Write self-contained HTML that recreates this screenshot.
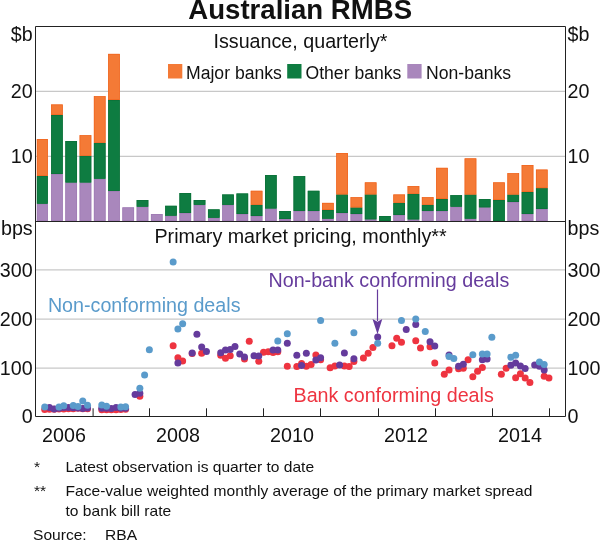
<!DOCTYPE html><html><head><meta charset="utf-8"><style>html,body{margin:0;padding:0;background:#fff}svg{display:block;will-change:transform}text{font-family:"Liberation Sans",sans-serif}</style></head><body>
<svg width="600" height="540" viewBox="0 0 600 540">
<rect width="600" height="540" fill="#fff"/>
<text x="300.2" y="19.2" text-anchor="middle" font-size="27.6" font-weight="bold" fill="#111">Australian RMBS</text>
<line x1="36" x2="565" y1="91.3" y2="91.3" stroke="#C8C8C8" stroke-width="1.2"/>
<line x1="36" x2="565" y1="156.3" y2="156.3" stroke="#C8C8C8" stroke-width="1.2"/>
<line x1="36" x2="565" y1="269.9" y2="269.9" stroke="#C8C8C8" stroke-width="1.2"/>
<line x1="36" x2="565" y1="319.1" y2="319.1" stroke="#C8C8C8" stroke-width="1.2"/>
<line x1="36" x2="565" y1="368.1" y2="368.1" stroke="#C8C8C8" stroke-width="1.2"/>
<rect x="36.85" y="203.75" width="11.0" height="17.25" fill="#A987BC"/>
<rect x="37.20" y="204.10" width="10.30" height="16.55" fill="none" stroke="#9E7AB3" stroke-width="0.7"/>
<rect x="36.85" y="176.00" width="11.0" height="27.75" fill="#0E7C41"/>
<rect x="37.20" y="176.35" width="10.30" height="27.05" fill="none" stroke="#0B7038" stroke-width="0.7"/>
<rect x="36.85" y="139.00" width="11.0" height="37.00" fill="#F47A36"/>
<rect x="37.20" y="139.35" width="10.30" height="36.30" fill="none" stroke="#F0641E" stroke-width="0.7"/>
<rect x="51.11" y="174.00" width="11.65" height="47.00" fill="#A987BC"/>
<rect x="51.46" y="174.35" width="10.95" height="46.30" fill="none" stroke="#9E7AB3" stroke-width="0.7"/>
<rect x="51.11" y="115.00" width="11.65" height="59.00" fill="#0E7C41"/>
<rect x="51.46" y="115.35" width="10.95" height="58.30" fill="none" stroke="#0B7038" stroke-width="0.7"/>
<rect x="51.11" y="104.50" width="11.65" height="10.50" fill="#F47A36"/>
<rect x="51.46" y="104.85" width="10.95" height="9.80" fill="none" stroke="#F0641E" stroke-width="0.7"/>
<rect x="65.37" y="182.50" width="11.65" height="38.50" fill="#A987BC"/>
<rect x="65.72" y="182.85" width="10.95" height="37.80" fill="none" stroke="#9E7AB3" stroke-width="0.7"/>
<rect x="65.37" y="141.00" width="11.65" height="41.50" fill="#0E7C41"/>
<rect x="65.72" y="141.35" width="10.95" height="40.80" fill="none" stroke="#0B7038" stroke-width="0.7"/>
<rect x="79.63" y="182.50" width="11.65" height="38.50" fill="#A987BC"/>
<rect x="79.98" y="182.85" width="10.95" height="37.80" fill="none" stroke="#9E7AB3" stroke-width="0.7"/>
<rect x="79.63" y="155.75" width="11.65" height="26.75" fill="#0E7C41"/>
<rect x="79.98" y="156.10" width="10.95" height="26.05" fill="none" stroke="#0B7038" stroke-width="0.7"/>
<rect x="79.63" y="135.25" width="11.65" height="20.50" fill="#F47A36"/>
<rect x="79.98" y="135.60" width="10.95" height="19.80" fill="none" stroke="#F0641E" stroke-width="0.7"/>
<rect x="93.89" y="178.75" width="11.65" height="42.25" fill="#A987BC"/>
<rect x="94.24" y="179.10" width="10.95" height="41.55" fill="none" stroke="#9E7AB3" stroke-width="0.7"/>
<rect x="93.89" y="142.75" width="11.65" height="36.00" fill="#0E7C41"/>
<rect x="94.24" y="143.10" width="10.95" height="35.30" fill="none" stroke="#0B7038" stroke-width="0.7"/>
<rect x="93.89" y="96.25" width="11.65" height="46.50" fill="#F47A36"/>
<rect x="94.24" y="96.60" width="10.95" height="45.80" fill="none" stroke="#F0641E" stroke-width="0.7"/>
<rect x="108.15" y="191.00" width="11.65" height="30.00" fill="#A987BC"/>
<rect x="108.50" y="191.35" width="10.95" height="29.30" fill="none" stroke="#9E7AB3" stroke-width="0.7"/>
<rect x="108.15" y="100.00" width="11.65" height="91.00" fill="#0E7C41"/>
<rect x="108.50" y="100.35" width="10.95" height="90.30" fill="none" stroke="#0B7038" stroke-width="0.7"/>
<rect x="108.15" y="53.90" width="11.65" height="46.10" fill="#F47A36"/>
<rect x="108.50" y="54.25" width="10.95" height="45.40" fill="none" stroke="#F0641E" stroke-width="0.7"/>
<rect x="122.41" y="207.40" width="11.65" height="13.60" fill="#A987BC"/>
<rect x="122.76" y="207.75" width="10.95" height="12.90" fill="none" stroke="#9E7AB3" stroke-width="0.7"/>
<rect x="136.67" y="206.70" width="11.65" height="14.30" fill="#A987BC"/>
<rect x="137.02" y="207.05" width="10.95" height="13.60" fill="none" stroke="#9E7AB3" stroke-width="0.7"/>
<rect x="136.67" y="200.00" width="11.65" height="6.70" fill="#0E7C41"/>
<rect x="137.02" y="200.35" width="10.95" height="6.00" fill="none" stroke="#0B7038" stroke-width="0.7"/>
<rect x="150.93" y="214.00" width="11.65" height="7.00" fill="#A987BC"/>
<rect x="151.28" y="214.35" width="10.95" height="6.30" fill="none" stroke="#9E7AB3" stroke-width="0.7"/>
<rect x="165.19" y="215.70" width="11.65" height="5.30" fill="#A987BC"/>
<rect x="165.54" y="216.05" width="10.95" height="4.60" fill="none" stroke="#9E7AB3" stroke-width="0.7"/>
<rect x="165.19" y="205.80" width="11.65" height="9.90" fill="#0E7C41"/>
<rect x="165.54" y="206.15" width="10.95" height="9.20" fill="none" stroke="#0B7038" stroke-width="0.7"/>
<rect x="179.45" y="213.00" width="11.65" height="8.00" fill="#A987BC"/>
<rect x="179.80" y="213.35" width="10.95" height="7.30" fill="none" stroke="#9E7AB3" stroke-width="0.7"/>
<rect x="179.45" y="193.00" width="11.65" height="20.00" fill="#0E7C41"/>
<rect x="179.80" y="193.35" width="10.95" height="19.30" fill="none" stroke="#0B7038" stroke-width="0.7"/>
<rect x="193.71" y="204.90" width="11.65" height="16.10" fill="#A987BC"/>
<rect x="194.06" y="205.25" width="10.95" height="15.40" fill="none" stroke="#9E7AB3" stroke-width="0.7"/>
<rect x="193.71" y="200.00" width="11.65" height="4.90" fill="#0E7C41"/>
<rect x="194.06" y="200.35" width="10.95" height="4.20" fill="none" stroke="#0B7038" stroke-width="0.7"/>
<rect x="207.97" y="217.80" width="11.65" height="3.20" fill="#A987BC"/>
<rect x="208.32" y="218.15" width="10.95" height="2.50" fill="none" stroke="#9E7AB3" stroke-width="0.7"/>
<rect x="207.97" y="209.40" width="11.65" height="8.40" fill="#0E7C41"/>
<rect x="208.32" y="209.75" width="10.95" height="7.70" fill="none" stroke="#0B7038" stroke-width="0.7"/>
<rect x="222.23" y="204.90" width="11.65" height="16.10" fill="#A987BC"/>
<rect x="222.58" y="205.25" width="10.95" height="15.40" fill="none" stroke="#9E7AB3" stroke-width="0.7"/>
<rect x="222.23" y="194.50" width="11.65" height="10.40" fill="#0E7C41"/>
<rect x="222.58" y="194.85" width="10.95" height="9.70" fill="none" stroke="#0B7038" stroke-width="0.7"/>
<rect x="236.49" y="214.00" width="11.65" height="7.00" fill="#A987BC"/>
<rect x="236.84" y="214.35" width="10.95" height="6.30" fill="none" stroke="#9E7AB3" stroke-width="0.7"/>
<rect x="236.49" y="193.50" width="11.65" height="20.50" fill="#0E7C41"/>
<rect x="236.84" y="193.85" width="10.95" height="19.80" fill="none" stroke="#0B7038" stroke-width="0.7"/>
<rect x="250.75" y="216.00" width="11.65" height="5.00" fill="#A987BC"/>
<rect x="251.10" y="216.35" width="10.95" height="4.30" fill="none" stroke="#9E7AB3" stroke-width="0.7"/>
<rect x="250.75" y="204.75" width="11.65" height="11.25" fill="#0E7C41"/>
<rect x="251.10" y="205.10" width="10.95" height="10.55" fill="none" stroke="#0B7038" stroke-width="0.7"/>
<rect x="250.75" y="190.80" width="11.65" height="13.95" fill="#F47A36"/>
<rect x="251.10" y="191.15" width="10.95" height="13.25" fill="none" stroke="#F0641E" stroke-width="0.7"/>
<rect x="265.01" y="208.50" width="11.65" height="12.50" fill="#A987BC"/>
<rect x="265.36" y="208.85" width="10.95" height="11.80" fill="none" stroke="#9E7AB3" stroke-width="0.7"/>
<rect x="265.01" y="175.00" width="11.65" height="33.50" fill="#0E7C41"/>
<rect x="265.36" y="175.35" width="10.95" height="32.80" fill="none" stroke="#0B7038" stroke-width="0.7"/>
<rect x="279.27" y="219.00" width="11.65" height="2.00" fill="#A987BC"/>
<rect x="279.62" y="219.35" width="10.95" height="1.30" fill="none" stroke="#9E7AB3" stroke-width="0.7"/>
<rect x="279.27" y="211.00" width="11.65" height="8.00" fill="#0E7C41"/>
<rect x="279.62" y="211.35" width="10.95" height="7.30" fill="none" stroke="#0B7038" stroke-width="0.7"/>
<rect x="293.53" y="211.00" width="11.65" height="10.00" fill="#A987BC"/>
<rect x="293.88" y="211.35" width="10.95" height="9.30" fill="none" stroke="#9E7AB3" stroke-width="0.7"/>
<rect x="293.53" y="176.10" width="11.65" height="34.90" fill="#0E7C41"/>
<rect x="293.88" y="176.45" width="10.95" height="34.20" fill="none" stroke="#0B7038" stroke-width="0.7"/>
<rect x="307.79" y="211.00" width="11.65" height="10.00" fill="#A987BC"/>
<rect x="308.14" y="211.35" width="10.95" height="9.30" fill="none" stroke="#9E7AB3" stroke-width="0.7"/>
<rect x="307.79" y="190.80" width="11.65" height="20.20" fill="#0E7C41"/>
<rect x="308.14" y="191.15" width="10.95" height="19.50" fill="none" stroke="#0B7038" stroke-width="0.7"/>
<rect x="322.05" y="218.70" width="11.65" height="2.30" fill="#A987BC"/>
<rect x="322.40" y="219.05" width="10.95" height="1.60" fill="none" stroke="#9E7AB3" stroke-width="0.7"/>
<rect x="322.05" y="210.00" width="11.65" height="8.70" fill="#0E7C41"/>
<rect x="322.40" y="210.35" width="10.95" height="8.00" fill="none" stroke="#0B7038" stroke-width="0.7"/>
<rect x="322.05" y="202.90" width="11.65" height="7.10" fill="#F47A36"/>
<rect x="322.40" y="203.25" width="10.95" height="6.40" fill="none" stroke="#F0641E" stroke-width="0.7"/>
<rect x="336.31" y="213.00" width="11.65" height="8.00" fill="#A987BC"/>
<rect x="336.66" y="213.35" width="10.95" height="7.30" fill="none" stroke="#9E7AB3" stroke-width="0.7"/>
<rect x="336.31" y="194.40" width="11.65" height="18.60" fill="#0E7C41"/>
<rect x="336.66" y="194.75" width="10.95" height="17.90" fill="none" stroke="#0B7038" stroke-width="0.7"/>
<rect x="336.31" y="153.00" width="11.65" height="41.40" fill="#F47A36"/>
<rect x="336.66" y="153.35" width="10.95" height="40.70" fill="none" stroke="#F0641E" stroke-width="0.7"/>
<rect x="350.57" y="214.00" width="11.65" height="7.00" fill="#A987BC"/>
<rect x="350.92" y="214.35" width="10.95" height="6.30" fill="none" stroke="#9E7AB3" stroke-width="0.7"/>
<rect x="350.57" y="207.40" width="11.65" height="6.60" fill="#0E7C41"/>
<rect x="350.92" y="207.75" width="10.95" height="5.90" fill="none" stroke="#0B7038" stroke-width="0.7"/>
<rect x="350.57" y="197.25" width="11.65" height="10.15" fill="#F47A36"/>
<rect x="350.92" y="197.60" width="10.95" height="9.45" fill="none" stroke="#F0641E" stroke-width="0.7"/>
<rect x="364.83" y="219.30" width="11.65" height="1.70" fill="#A987BC"/>
<rect x="365.18" y="219.65" width="10.95" height="1.00" fill="none" stroke="#9E7AB3" stroke-width="0.7"/>
<rect x="364.83" y="194.40" width="11.65" height="24.90" fill="#0E7C41"/>
<rect x="365.18" y="194.75" width="10.95" height="24.20" fill="none" stroke="#0B7038" stroke-width="0.7"/>
<rect x="364.83" y="182.40" width="11.65" height="12.00" fill="#F47A36"/>
<rect x="365.18" y="182.75" width="10.95" height="11.30" fill="none" stroke="#F0641E" stroke-width="0.7"/>
<rect x="379.09" y="216.00" width="11.65" height="5.00" fill="#0E7C41"/>
<rect x="379.44" y="216.35" width="10.95" height="4.30" fill="none" stroke="#0B7038" stroke-width="0.7"/>
<rect x="393.35" y="215.00" width="11.65" height="6.00" fill="#A987BC"/>
<rect x="393.70" y="215.35" width="10.95" height="5.30" fill="none" stroke="#9E7AB3" stroke-width="0.7"/>
<rect x="393.35" y="202.80" width="11.65" height="12.20" fill="#0E7C41"/>
<rect x="393.70" y="203.15" width="10.95" height="11.50" fill="none" stroke="#0B7038" stroke-width="0.7"/>
<rect x="393.35" y="194.50" width="11.65" height="8.30" fill="#F47A36"/>
<rect x="393.70" y="194.85" width="10.95" height="7.60" fill="none" stroke="#F0641E" stroke-width="0.7"/>
<rect x="407.61" y="219.40" width="11.65" height="1.60" fill="#A987BC"/>
<rect x="407.96" y="219.75" width="10.95" height="0.90" fill="none" stroke="#9E7AB3" stroke-width="0.7"/>
<rect x="407.61" y="193.80" width="11.65" height="25.60" fill="#0E7C41"/>
<rect x="407.96" y="194.15" width="10.95" height="24.90" fill="none" stroke="#0B7038" stroke-width="0.7"/>
<rect x="407.61" y="186.10" width="11.65" height="7.70" fill="#F47A36"/>
<rect x="407.96" y="186.45" width="10.95" height="7.00" fill="none" stroke="#F0641E" stroke-width="0.7"/>
<rect x="421.87" y="211.00" width="11.65" height="10.00" fill="#A987BC"/>
<rect x="422.22" y="211.35" width="10.95" height="9.30" fill="none" stroke="#9E7AB3" stroke-width="0.7"/>
<rect x="421.87" y="204.75" width="11.65" height="6.25" fill="#0E7C41"/>
<rect x="422.22" y="205.10" width="10.95" height="5.55" fill="none" stroke="#0B7038" stroke-width="0.7"/>
<rect x="421.87" y="197.25" width="11.65" height="7.50" fill="#F47A36"/>
<rect x="422.22" y="197.60" width="10.95" height="6.80" fill="none" stroke="#F0641E" stroke-width="0.7"/>
<rect x="436.13" y="211.00" width="11.65" height="10.00" fill="#A987BC"/>
<rect x="436.48" y="211.35" width="10.95" height="9.30" fill="none" stroke="#9E7AB3" stroke-width="0.7"/>
<rect x="436.13" y="199.00" width="11.65" height="12.00" fill="#0E7C41"/>
<rect x="436.48" y="199.35" width="10.95" height="11.30" fill="none" stroke="#0B7038" stroke-width="0.7"/>
<rect x="436.13" y="167.85" width="11.65" height="31.15" fill="#F47A36"/>
<rect x="436.48" y="168.20" width="10.95" height="30.45" fill="none" stroke="#F0641E" stroke-width="0.7"/>
<rect x="450.39" y="206.70" width="11.65" height="14.30" fill="#A987BC"/>
<rect x="450.74" y="207.05" width="10.95" height="13.60" fill="none" stroke="#9E7AB3" stroke-width="0.7"/>
<rect x="450.39" y="195.15" width="11.65" height="11.55" fill="#0E7C41"/>
<rect x="450.74" y="195.50" width="10.95" height="10.85" fill="none" stroke="#0B7038" stroke-width="0.7"/>
<rect x="464.65" y="218.70" width="11.65" height="2.30" fill="#A987BC"/>
<rect x="465.00" y="219.05" width="10.95" height="1.60" fill="none" stroke="#9E7AB3" stroke-width="0.7"/>
<rect x="464.65" y="194.50" width="11.65" height="24.20" fill="#0E7C41"/>
<rect x="465.00" y="194.85" width="10.95" height="23.50" fill="none" stroke="#0B7038" stroke-width="0.7"/>
<rect x="464.65" y="158.40" width="11.65" height="36.10" fill="#F47A36"/>
<rect x="465.00" y="158.75" width="10.95" height="35.40" fill="none" stroke="#F0641E" stroke-width="0.7"/>
<rect x="478.91" y="207.30" width="11.65" height="13.70" fill="#A987BC"/>
<rect x="479.26" y="207.65" width="10.95" height="13.00" fill="none" stroke="#9E7AB3" stroke-width="0.7"/>
<rect x="478.91" y="199.00" width="11.65" height="8.30" fill="#0E7C41"/>
<rect x="479.26" y="199.35" width="10.95" height="7.60" fill="none" stroke="#0B7038" stroke-width="0.7"/>
<rect x="493.17" y="200.00" width="11.65" height="21.00" fill="#0E7C41"/>
<rect x="493.52" y="200.35" width="10.95" height="20.30" fill="none" stroke="#0B7038" stroke-width="0.7"/>
<rect x="493.17" y="182.40" width="11.65" height="17.60" fill="#F47A36"/>
<rect x="493.52" y="182.75" width="10.95" height="16.90" fill="none" stroke="#F0641E" stroke-width="0.7"/>
<rect x="507.43" y="202.00" width="11.65" height="19.00" fill="#A987BC"/>
<rect x="507.78" y="202.35" width="10.95" height="18.30" fill="none" stroke="#9E7AB3" stroke-width="0.7"/>
<rect x="507.43" y="194.50" width="11.65" height="7.50" fill="#0E7C41"/>
<rect x="507.78" y="194.85" width="10.95" height="6.80" fill="none" stroke="#0B7038" stroke-width="0.7"/>
<rect x="507.43" y="173.25" width="11.65" height="21.25" fill="#F47A36"/>
<rect x="507.78" y="173.60" width="10.95" height="20.55" fill="none" stroke="#F0641E" stroke-width="0.7"/>
<rect x="521.69" y="214.00" width="11.65" height="7.00" fill="#A987BC"/>
<rect x="522.04" y="214.35" width="10.95" height="6.30" fill="none" stroke="#9E7AB3" stroke-width="0.7"/>
<rect x="521.69" y="192.00" width="11.65" height="22.00" fill="#0E7C41"/>
<rect x="522.04" y="192.35" width="10.95" height="21.30" fill="none" stroke="#0B7038" stroke-width="0.7"/>
<rect x="521.69" y="165.00" width="11.65" height="27.00" fill="#F47A36"/>
<rect x="522.04" y="165.35" width="10.95" height="26.30" fill="none" stroke="#F0641E" stroke-width="0.7"/>
<rect x="535.95" y="209.00" width="11.65" height="12.00" fill="#A987BC"/>
<rect x="536.30" y="209.35" width="10.95" height="11.30" fill="none" stroke="#9E7AB3" stroke-width="0.7"/>
<rect x="535.95" y="188.10" width="11.65" height="20.90" fill="#0E7C41"/>
<rect x="536.30" y="188.45" width="10.95" height="20.20" fill="none" stroke="#0B7038" stroke-width="0.7"/>
<rect x="535.95" y="169.60" width="11.65" height="18.50" fill="#F47A36"/>
<rect x="536.30" y="169.95" width="10.95" height="17.80" fill="none" stroke="#F0641E" stroke-width="0.7"/>
<circle cx="44.70" cy="409.5" r="3.5" fill="#EE3440"/>
<circle cx="49.46" cy="409.2" r="3.5" fill="#EE3440"/>
<circle cx="54.21" cy="409.3" r="3.5" fill="#EE3440"/>
<circle cx="58.97" cy="409" r="3.5" fill="#EE3440"/>
<circle cx="63.73" cy="409" r="3.5" fill="#EE3440"/>
<circle cx="68.48" cy="408.8" r="3.5" fill="#EE3440"/>
<circle cx="73.24" cy="408.8" r="3.5" fill="#EE3440"/>
<circle cx="78.00" cy="408.2" r="3.5" fill="#EE3440"/>
<circle cx="82.76" cy="408.8" r="3.5" fill="#EE3440"/>
<circle cx="87.51" cy="408.8" r="3.5" fill="#EE3440"/>
<circle cx="101.78" cy="409.8" r="3.5" fill="#EE3440"/>
<circle cx="106.54" cy="409.8" r="3.5" fill="#EE3440"/>
<circle cx="111.30" cy="409.8" r="3.5" fill="#EE3440"/>
<circle cx="116.05" cy="409.8" r="3.5" fill="#EE3440"/>
<circle cx="120.81" cy="409.5" r="3.5" fill="#EE3440"/>
<circle cx="125.57" cy="409.3" r="3.5" fill="#EE3440"/>
<circle cx="139.84" cy="396.2" r="3.5" fill="#EE3440"/>
<circle cx="173.14" cy="345.8" r="3.5" fill="#EE3440"/>
<circle cx="177.90" cy="357.8" r="3.5" fill="#EE3440"/>
<circle cx="182.65" cy="361.1" r="3.5" fill="#EE3440"/>
<circle cx="192.17" cy="353.5" r="3.5" fill="#EE3440"/>
<circle cx="201.68" cy="353.3" r="3.5" fill="#EE3440"/>
<circle cx="220.71" cy="355.2" r="3.5" fill="#EE3440"/>
<circle cx="225.47" cy="358.3" r="3.5" fill="#EE3440"/>
<circle cx="230.22" cy="355.7" r="3.5" fill="#EE3440"/>
<circle cx="244.49" cy="359" r="3.5" fill="#EE3440"/>
<circle cx="249.25" cy="341.3" r="3.5" fill="#EE3440"/>
<circle cx="258.76" cy="361.3" r="3.5" fill="#EE3440"/>
<circle cx="263.52" cy="352.2" r="3.5" fill="#EE3440"/>
<circle cx="268.28" cy="351.7" r="3.5" fill="#EE3440"/>
<circle cx="273.04" cy="352.5" r="3.5" fill="#EE3440"/>
<circle cx="277.79" cy="351.7" r="3.5" fill="#EE3440"/>
<circle cx="287.31" cy="366.2" r="3.5" fill="#EE3440"/>
<circle cx="296.82" cy="366.6" r="3.5" fill="#EE3440"/>
<circle cx="301.58" cy="363.5" r="3.5" fill="#EE3440"/>
<circle cx="306.33" cy="366.3" r="3.5" fill="#EE3440"/>
<circle cx="311.09" cy="364.6" r="3.5" fill="#EE3440"/>
<circle cx="315.85" cy="355.1" r="3.5" fill="#EE3440"/>
<circle cx="320.61" cy="359.8" r="3.5" fill="#EE3440"/>
<circle cx="330.12" cy="367.7" r="3.5" fill="#EE3440"/>
<circle cx="334.88" cy="365.9" r="3.5" fill="#EE3440"/>
<circle cx="344.39" cy="365.9" r="3.5" fill="#EE3440"/>
<circle cx="349.15" cy="366.6" r="3.5" fill="#EE3440"/>
<circle cx="353.90" cy="361.5" r="3.5" fill="#EE3440"/>
<circle cx="363.42" cy="358.1" r="3.5" fill="#EE3440"/>
<circle cx="368.18" cy="353.3" r="3.5" fill="#EE3440"/>
<circle cx="372.93" cy="347.6" r="3.5" fill="#EE3440"/>
<circle cx="391.96" cy="345.8" r="3.5" fill="#EE3440"/>
<circle cx="396.72" cy="338.2" r="3.5" fill="#EE3440"/>
<circle cx="401.47" cy="342.2" r="3.5" fill="#EE3440"/>
<circle cx="415.75" cy="340.8" r="3.5" fill="#EE3440"/>
<circle cx="420.50" cy="348" r="3.5" fill="#EE3440"/>
<circle cx="430.02" cy="346.8" r="3.5" fill="#EE3440"/>
<circle cx="434.77" cy="362.9" r="3.5" fill="#EE3440"/>
<circle cx="444.29" cy="374.3" r="3.5" fill="#EE3440"/>
<circle cx="449.04" cy="370.1" r="3.5" fill="#EE3440"/>
<circle cx="458.56" cy="368.8" r="3.5" fill="#EE3440"/>
<circle cx="463.32" cy="368.2" r="3.5" fill="#EE3440"/>
<circle cx="468.07" cy="359.8" r="3.5" fill="#EE3440"/>
<circle cx="472.83" cy="376.7" r="3.5" fill="#EE3440"/>
<circle cx="477.59" cy="371.3" r="3.5" fill="#EE3440"/>
<circle cx="482.34" cy="367.6" r="3.5" fill="#EE3440"/>
<circle cx="501.37" cy="374.2" r="3.5" fill="#EE3440"/>
<circle cx="506.13" cy="368.3" r="3.5" fill="#EE3440"/>
<circle cx="515.64" cy="377.7" r="3.5" fill="#EE3440"/>
<circle cx="520.40" cy="373.8" r="3.5" fill="#EE3440"/>
<circle cx="525.16" cy="378" r="3.5" fill="#EE3440"/>
<circle cx="529.91" cy="382.6" r="3.5" fill="#EE3440"/>
<circle cx="544.18" cy="376.2" r="3.5" fill="#EE3440"/>
<circle cx="548.94" cy="377.9" r="3.5" fill="#EE3440"/>
<circle cx="49.46" cy="407.5" r="3.5" fill="#653B9C"/>
<circle cx="54.21" cy="409" r="3.5" fill="#653B9C"/>
<circle cx="58.97" cy="408.3" r="3.5" fill="#653B9C"/>
<circle cx="63.73" cy="407.5" r="3.5" fill="#653B9C"/>
<circle cx="68.48" cy="407.5" r="3.5" fill="#653B9C"/>
<circle cx="73.24" cy="407.8" r="3.5" fill="#653B9C"/>
<circle cx="78.00" cy="408" r="3.5" fill="#653B9C"/>
<circle cx="82.76" cy="408.5" r="3.5" fill="#653B9C"/>
<circle cx="87.51" cy="408" r="3.5" fill="#653B9C"/>
<circle cx="101.78" cy="408.3" r="3.5" fill="#653B9C"/>
<circle cx="106.54" cy="408.3" r="3.5" fill="#653B9C"/>
<circle cx="111.30" cy="408.6" r="3.5" fill="#653B9C"/>
<circle cx="116.05" cy="407.6" r="3.5" fill="#653B9C"/>
<circle cx="120.81" cy="408.3" r="3.5" fill="#653B9C"/>
<circle cx="125.57" cy="408.3" r="3.5" fill="#653B9C"/>
<circle cx="135.08" cy="394.4" r="3.5" fill="#653B9C"/>
<circle cx="139.84" cy="393.3" r="3.5" fill="#653B9C"/>
<circle cx="177.90" cy="363.1" r="3.5" fill="#653B9C"/>
<circle cx="192.17" cy="353.1" r="3.5" fill="#653B9C"/>
<circle cx="196.92" cy="334.3" r="3.5" fill="#653B9C"/>
<circle cx="201.68" cy="346.9" r="3.5" fill="#653B9C"/>
<circle cx="206.44" cy="351.5" r="3.5" fill="#653B9C"/>
<circle cx="220.71" cy="352.7" r="3.5" fill="#653B9C"/>
<circle cx="225.47" cy="350.1" r="3.5" fill="#653B9C"/>
<circle cx="230.22" cy="349.6" r="3.5" fill="#653B9C"/>
<circle cx="234.98" cy="346.6" r="3.5" fill="#653B9C"/>
<circle cx="239.74" cy="353.9" r="3.5" fill="#653B9C"/>
<circle cx="244.49" cy="357" r="3.5" fill="#653B9C"/>
<circle cx="254.01" cy="355.7" r="3.5" fill="#653B9C"/>
<circle cx="258.76" cy="355.9" r="3.5" fill="#653B9C"/>
<circle cx="273.04" cy="350.1" r="3.5" fill="#653B9C"/>
<circle cx="277.79" cy="350.1" r="3.5" fill="#653B9C"/>
<circle cx="287.31" cy="343.3" r="3.5" fill="#653B9C"/>
<circle cx="296.82" cy="355.2" r="3.5" fill="#653B9C"/>
<circle cx="301.58" cy="365.6" r="3.5" fill="#653B9C"/>
<circle cx="306.33" cy="353.3" r="3.5" fill="#653B9C"/>
<circle cx="315.85" cy="360" r="3.5" fill="#653B9C"/>
<circle cx="320.61" cy="357.7" r="3.5" fill="#653B9C"/>
<circle cx="339.63" cy="365.1" r="3.5" fill="#653B9C"/>
<circle cx="344.39" cy="352.9" r="3.5" fill="#653B9C"/>
<circle cx="353.90" cy="358.7" r="3.5" fill="#653B9C"/>
<circle cx="377.69" cy="337.1" r="3.5" fill="#653B9C"/>
<circle cx="406.23" cy="329.4" r="3.5" fill="#653B9C"/>
<circle cx="415.75" cy="324.4" r="3.5" fill="#653B9C"/>
<circle cx="430.02" cy="341.7" r="3.5" fill="#653B9C"/>
<circle cx="434.77" cy="345.9" r="3.5" fill="#653B9C"/>
<circle cx="449.04" cy="355" r="3.5" fill="#653B9C"/>
<circle cx="458.56" cy="366.2" r="3.5" fill="#653B9C"/>
<circle cx="463.32" cy="364.3" r="3.5" fill="#653B9C"/>
<circle cx="482.34" cy="359.8" r="3.5" fill="#653B9C"/>
<circle cx="487.10" cy="359.1" r="3.5" fill="#653B9C"/>
<circle cx="510.89" cy="365.3" r="3.5" fill="#653B9C"/>
<circle cx="515.64" cy="363" r="3.5" fill="#653B9C"/>
<circle cx="520.40" cy="366" r="3.5" fill="#653B9C"/>
<circle cx="525.16" cy="368.4" r="3.5" fill="#653B9C"/>
<circle cx="534.67" cy="364.9" r="3.5" fill="#653B9C"/>
<circle cx="539.43" cy="366.3" r="3.5" fill="#653B9C"/>
<circle cx="544.18" cy="370" r="3.5" fill="#653B9C"/>
<circle cx="44.70" cy="407" r="3.5" fill="#5A9BCB"/>
<circle cx="58.97" cy="407" r="3.5" fill="#5A9BCB"/>
<circle cx="63.73" cy="405.8" r="3.5" fill="#5A9BCB"/>
<circle cx="73.24" cy="405.5" r="3.5" fill="#5A9BCB"/>
<circle cx="78.00" cy="406.5" r="3.5" fill="#5A9BCB"/>
<circle cx="82.76" cy="401" r="3.5" fill="#5A9BCB"/>
<circle cx="87.51" cy="405.2" r="3.5" fill="#5A9BCB"/>
<circle cx="101.78" cy="405" r="3.5" fill="#5A9BCB"/>
<circle cx="106.54" cy="406.3" r="3.5" fill="#5A9BCB"/>
<circle cx="120.81" cy="407" r="3.5" fill="#5A9BCB"/>
<circle cx="125.57" cy="406.7" r="3.5" fill="#5A9BCB"/>
<circle cx="139.84" cy="388.2" r="3.5" fill="#5A9BCB"/>
<circle cx="144.60" cy="375" r="3.5" fill="#5A9BCB"/>
<circle cx="149.35" cy="349.7" r="3.5" fill="#5A9BCB"/>
<circle cx="173.14" cy="262" r="3.5" fill="#5A9BCB"/>
<circle cx="177.90" cy="328.9" r="3.5" fill="#5A9BCB"/>
<circle cx="182.65" cy="323.7" r="3.5" fill="#5A9BCB"/>
<circle cx="277.79" cy="341" r="3.5" fill="#5A9BCB"/>
<circle cx="287.31" cy="333.8" r="3.5" fill="#5A9BCB"/>
<circle cx="320.61" cy="320.6" r="3.5" fill="#5A9BCB"/>
<circle cx="334.88" cy="343.3" r="3.5" fill="#5A9BCB"/>
<circle cx="353.90" cy="332.8" r="3.5" fill="#5A9BCB"/>
<circle cx="377.69" cy="343.3" r="3.5" fill="#5A9BCB"/>
<circle cx="401.47" cy="320.6" r="3.5" fill="#5A9BCB"/>
<circle cx="415.75" cy="319.1" r="3.5" fill="#5A9BCB"/>
<circle cx="425.26" cy="331.4" r="3.5" fill="#5A9BCB"/>
<circle cx="449.04" cy="356.5" r="3.5" fill="#5A9BCB"/>
<circle cx="453.80" cy="358.5" r="3.5" fill="#5A9BCB"/>
<circle cx="472.83" cy="354.7" r="3.5" fill="#5A9BCB"/>
<circle cx="482.34" cy="353.9" r="3.5" fill="#5A9BCB"/>
<circle cx="487.10" cy="353.9" r="3.5" fill="#5A9BCB"/>
<circle cx="491.86" cy="337.2" r="3.5" fill="#5A9BCB"/>
<circle cx="510.89" cy="357.2" r="3.5" fill="#5A9BCB"/>
<circle cx="515.64" cy="355.3" r="3.5" fill="#5A9BCB"/>
<circle cx="539.43" cy="361.9" r="3.5" fill="#5A9BCB"/>
<circle cx="544.18" cy="364.4" r="3.5" fill="#5A9BCB"/>
<line x1="377.5" x2="377.5" y1="289.5" y2="321" stroke="#653B9C" stroke-width="1.2"/>
<polygon points="372.5,319 377.5,321.8 382.3,319 377.5,334.2" fill="#653B9C"/>
<path d="M35.5 26.5H565.5V416.5H35.5Z M35.5 221.5H565.5" fill="none" stroke="#222" stroke-width="1"/>
<line x1="93.1" x2="93.1" y1="408.3" y2="416" stroke="#222" stroke-width="1"/>
<line x1="149.5" x2="149.5" y1="408.3" y2="416" stroke="#222" stroke-width="1"/>
<line x1="206.5" x2="206.5" y1="408.3" y2="416" stroke="#222" stroke-width="1"/>
<line x1="263.5" x2="263.5" y1="408.3" y2="416" stroke="#222" stroke-width="1"/>
<line x1="320.5" x2="320.5" y1="408.3" y2="416" stroke="#222" stroke-width="1"/>
<line x1="378.5" x2="378.5" y1="408.3" y2="416" stroke="#222" stroke-width="1"/>
<line x1="435.5" x2="435.5" y1="408.3" y2="416" stroke="#222" stroke-width="1"/>
<line x1="492.5" x2="492.5" y1="408.3" y2="416" stroke="#222" stroke-width="1"/>
<line x1="549.5" x2="549.5" y1="408.3" y2="416" stroke="#222" stroke-width="1"/>
<text x="32.7" y="40.8" text-anchor="end" font-size="19.7" fill="#111">$b</text>
<text x="567.5" y="40.8" text-anchor="start" font-size="19.7" fill="#111">$b</text>
<text x="32.7" y="98" text-anchor="end" font-size="19.7" fill="#111">20</text>
<text x="567.5" y="98" text-anchor="start" font-size="19.7" fill="#111">20</text>
<text x="32.7" y="163" text-anchor="end" font-size="19.7" fill="#111">10</text>
<text x="567.5" y="163" text-anchor="start" font-size="19.7" fill="#111">10</text>
<text x="32.7" y="235" text-anchor="end" font-size="19.7" fill="#111">bps</text>
<text x="567.5" y="235" text-anchor="start" font-size="19.7" fill="#111">bps</text>
<text x="32.7" y="276.9" text-anchor="end" font-size="19.7" fill="#111">300</text>
<text x="567.5" y="276.9" text-anchor="start" font-size="19.7" fill="#111">300</text>
<text x="32.7" y="326.1" text-anchor="end" font-size="19.7" fill="#111">200</text>
<text x="567.5" y="326.1" text-anchor="start" font-size="19.7" fill="#111">200</text>
<text x="32.7" y="375.1" text-anchor="end" font-size="19.7" fill="#111">100</text>
<text x="567.5" y="375.1" text-anchor="start" font-size="19.7" fill="#111">100</text>
<text x="32.7" y="423.4" text-anchor="end" font-size="19.7" fill="#111">0</text>
<text x="567.5" y="423.4" text-anchor="start" font-size="19.7" fill="#111">0</text>
<text x="64" y="441.7" text-anchor="middle" font-size="19.7" fill="#111">2006</text>
<text x="178" y="441.7" text-anchor="middle" font-size="19.7" fill="#111">2008</text>
<text x="292" y="441.7" text-anchor="middle" font-size="19.7" fill="#111">2010</text>
<text x="406" y="441.7" text-anchor="middle" font-size="19.7" fill="#111">2012</text>
<text x="520" y="441.7" text-anchor="middle" font-size="19.7" fill="#111">2014</text>
<text x="300.5" y="48" text-anchor="middle" font-size="19.7" fill="#111">Issuance, quarterly*</text>
<text x="300.5" y="242.8" text-anchor="middle" font-size="19.7" fill="#111">Primary market pricing, monthly**</text>
<rect x="168" y="64" width="14.3" height="14.5" fill="#F47A36"/>
<text x="186" y="78.7" text-anchor="start" font-size="17.6" fill="#111">Major banks</text>
<rect x="287.2" y="64" width="14.3" height="14.5" fill="#0E7C41"/>
<text x="305.5" y="78.7" text-anchor="start" font-size="17.6" fill="#111">Other banks</text>
<rect x="407.3" y="64" width="14.3" height="14.5" fill="#A987BC"/>
<text x="426" y="78.7" text-anchor="start" font-size="17.6" fill="#111">Non-banks</text>
<text x="47.9" y="311.8" text-anchor="start" font-size="19.7" fill="#5A9BCB">Non-conforming deals</text>
<text x="268.5" y="287.2" text-anchor="start" font-size="19.7" fill="#653B9C">Non-bank conforming deals</text>
<text x="293.5" y="401.8" text-anchor="start" font-size="19.7" fill="#EE3440">Bank conforming deals</text>
<text transform="translate(34,472) scale(1,0.93)" text-anchor="start" font-size="15.6" fill="#111">*</text>
<text transform="translate(65.5,472) scale(1,0.93)" text-anchor="start" font-size="15.6" fill="#111">Latest observation is quarter to date</text>
<text transform="translate(34,495.6) scale(1,0.93)" text-anchor="start" font-size="15.6" fill="#111">**</text>
<text transform="translate(65.5,495.6) scale(1,0.93)" text-anchor="start" font-size="15.6" fill="#111">Face-value weighted monthly average of the primary market spread</text>
<text transform="translate(65.5,515.6) scale(1,0.93)" text-anchor="start" font-size="15.6" fill="#111">to bank bill rate</text>
<text transform="translate(33,540) scale(1,0.93)" text-anchor="start" font-size="15.6" fill="#111">Source:</text>
<text transform="translate(105,540) scale(1,0.93)" text-anchor="start" font-size="15.6" fill="#111">RBA</text>
</svg></body></html>
